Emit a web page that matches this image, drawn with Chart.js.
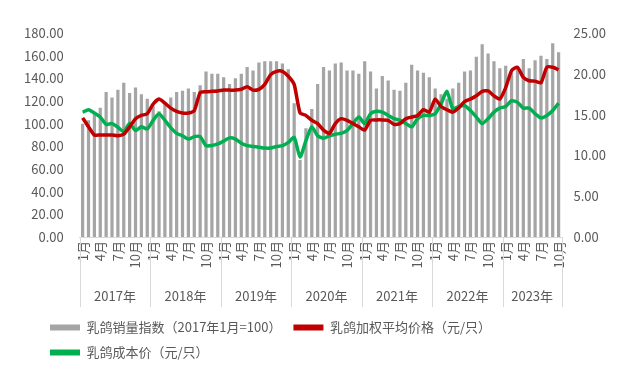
<!DOCTYPE html>
<html>
<head>
<meta charset="utf-8">
<script src="https://cdn.jsdelivr.net/npm/chart.js@4"></script>
<style>
  html, body { margin: 0; padding: 0; background: #fff; }
  #wrap { width: 624px; height: 387px; }
</style>
</head>
<body>
<div id="wrap"><canvas id="chart" width="624" height="387"></canvas></div>
<script>
// 乳鸽销量与价格 - monthly, 2017-01 .. 2023-10

const years = ['2017年', '2018年', '2019年', '2020年', '2021年', '2022年', '2023年'];
const monthsInYear = [12, 12, 12, 12, 12, 12, 10];
const monthTickLabels = ['1月', '4月', '7月', '10月'];

// 乳鸽销量指数（2017年1月=100）
const salesIndex = [
  100, 103, 109, 114, 128, 123, 130, 136, 127, 132, 126, 122,
  116, 111, 118, 123, 128, 129, 131, 128, 134, 146, 144, 144,
  141, 135, 140, 144, 150, 147, 154, 155, 155, 155, 153, 148,
  118, 68, 96, 113, 135, 150, 147, 153, 154, 147, 147, 144,
  155, 146, 131, 142, 138, 130, 129, 136, 152, 147, 145, 141,
  131, 126, 122, 131, 136, 146, 147, 159, 170, 162, 155, 149,
  151, 145, 150, 157, 149, 156, 160, 157, 171, 163
];

// 乳鸽加权平均价格（元/只）
const avgPrice = [
  14.6, 13.5, 12.5, 12.5, 12.5, 12.5, 12.4, 12.6, 13.5, 14.5, 14.9, 15.1,
  16.3, 16.9, 16.4, 15.8, 15.4, 15.2, 15.2, 15.5, 17.7, 17.8, 17.85, 17.9,
  18.0, 18.0, 18.0, 18.1, 18.4, 18.0, 18.1, 18.7, 19.9, 20.3, 20.3, 19.7,
  18.7, 15.2, 14.9, 14.3, 13.9, 13.1, 12.7, 13.9, 14.5, 14.3, 13.9, 13.5,
  13.1, 14.3, 14.35, 14.35, 14.3, 13.8, 13.9, 14.5, 14.7, 14.9, 15.6, 15.3,
  16.9, 16.0, 15.6, 15.3, 15.8, 16.6, 16.9, 17.3, 17.85, 17.9, 17.3, 16.9,
  18.3, 20.4, 20.8, 19.55, 19.15, 19.1, 18.9, 20.8, 20.8, 20.5
];

// 乳鸽成本价（元/只）
const costPrice = [
  15.3, 15.6, 15.2, 14.7, 13.8, 13.9, 13.45, 12.9, 13.9, 13.05, 13.5, 13.25,
  14.3, 15.1, 14.3, 13.4, 12.7, 12.4, 12.0, 12.3, 12.3, 11.2, 11.2, 11.4,
  11.75, 12.15, 12.0, 11.5, 11.2, 11.1, 11.0, 10.9, 10.9, 11.1, 11.2, 11.6,
  12.2, 9.8, 11.8, 13.5, 12.4, 12.1, 12.4, 12.6, 12.7, 13.05, 13.9, 14.7,
  13.9, 15.1, 15.4, 15.3, 14.9, 14.5, 14.3, 13.9, 13.5, 14.5, 14.9, 14.9,
  15.1, 16.3, 17.85, 15.7, 16.0, 16.1, 15.5, 14.7, 13.9, 14.5, 15.3, 15.8,
  16.0, 16.7, 16.5, 15.8, 15.8, 15.1, 14.6, 14.9, 15.5, 16.4
];

const FONT = '"Noto Sans CJK SC", "Noto Sans", sans-serif';
const TEXT = '#595959';
const GRID = '#D9D9D9';

// category labels: one per month
const categories = [];
years.forEach((y, yi) => {
  for (let m = 1; m <= monthsInYear[yi]; m++) categories.push(y + m + '月');
});

// year row under the month ticks, with separators
const yearRow = {
  id: 'yearRow',
  afterLayout(chart) {
    // push legend rows right, like the original
    chart.legend.left += 22;
  },
  afterDraw(chart) {
    const x = chart.scales.x;
    const ctx = chart.ctx;
    const bottom = chart.chartArea.bottom;
    const step = x.getPixelForValue(1) - x.getPixelForValue(0);
    let start = 0;
    const edges = [x.getPixelForValue(0) - step / 2];
    years.forEach((y, yi) => {
      start += monthsInYear[yi];
      edges.push(x.getPixelForValue(start - 1) + step / 2);
    });
    ctx.save();
    ctx.strokeStyle = GRID;
    ctx.lineWidth = 1;
    edges.forEach(px => {
      ctx.beginPath();
      ctx.moveTo(Math.round(px) + 0.5, bottom);
      ctx.lineTo(Math.round(px) + 0.5, bottom + 70);
      ctx.stroke();
    });
    ctx.fillStyle = TEXT;
    ctx.font = '13px ' + FONT;
    ctx.textAlign = 'center';
    ctx.textBaseline = 'middle';
    years.forEach((y, yi) => {
      ctx.fillText(y, (edges[yi] + edges[yi + 1]) / 2, bottom + 59);
    });
    ctx.restore();
  }
};

new Chart(document.getElementById('chart'), {
  type: 'bar',
  data: {
    labels: categories,
    datasets: [
      {
        label: '乳鸽销量指数（2017年1月=100）',
        data: salesIndex,
        backgroundColor: '#A5A5A5',
        barPercentage: 0.55,
        categoryPercentage: 1,
        yAxisID: 'y',
        order: 3
      },
      {
        type: 'line',
        label: '乳鸽加权平均价格（元/只）',
        data: avgPrice,
        borderColor: '#C00000',
        backgroundColor: '#C00000',
        borderWidth: 3.5,
        pointRadius: 0,
        tension: 0.2,
        yAxisID: 'y1',
        order: 1
      },
      {
        type: 'line',
        label: '乳鸽成本价（元/只）',
        data: costPrice,
        borderColor: '#00B050',
        backgroundColor: '#00B050',
        borderWidth: 3.5,
        pointRadius: 0,
        tension: 0.2,
        yAxisID: 'y1',
        order: 2
      }
    ]
  },
  options: {
    responsive: false,
    animation: false,
    layout: { padding: { top: 33, left: 16, right: 14, bottom: 18 } },
    plugins: {
      tooltip: { enabled: false },
      legend: {
        position: 'bottom',
        align: 'start',
        labels: {
          font: { size: 13, family: FONT },
          color: TEXT,
          boxWidth: 30,
          boxHeight: 6,
          padding: 12,
          sort: (a, b) => a.datasetIndex - b.datasetIndex,
          generateLabels: (chart) => {
            const items = Chart.defaults.plugins.legend.labels.generateLabels(chart);
            items.forEach(it => {
              it.lineWidth = 0;
              it.strokeStyle = 'rgba(0,0,0,0)';
            });
            return items;
          }
        }
      }
    },
    scales: {
      x: {
        grid: { display: false, drawTicks: false },
        border: { color: GRID },
        afterFit: (s) => { s.height = 72; },
        ticks: {
          autoSkip: false,
          minRotation: 90,
          maxRotation: 90,
          padding: 4,
          font: { size: 13, family: FONT },
          color: TEXT,
          callback: (v, i) => (i % 12) % 3 === 0 ? monthTickLabels[(i % 12) / 3] : ''
        }
      },
      y: {
        position: 'left',
        min: 0,
        max: 180,
        grid: { display: false },
        border: { display: false },
        ticks: {
          stepSize: 20,
          padding: 8,
          font: { size: 13, family: FONT },
          color: TEXT,
          callback: v => v.toFixed(2)
        }
      },
      y1: {
        position: 'right',
        min: 0,
        max: 25,
        grid: { display: false },
        border: { display: false },
        ticks: {
          stepSize: 5,
          padding: 4,
          font: { size: 13, family: FONT },
          color: TEXT,
          callback: v => v.toFixed(2)
        }
      }
    }
  },
  plugins: [yearRow]
});
</script>
</body>
</html>
